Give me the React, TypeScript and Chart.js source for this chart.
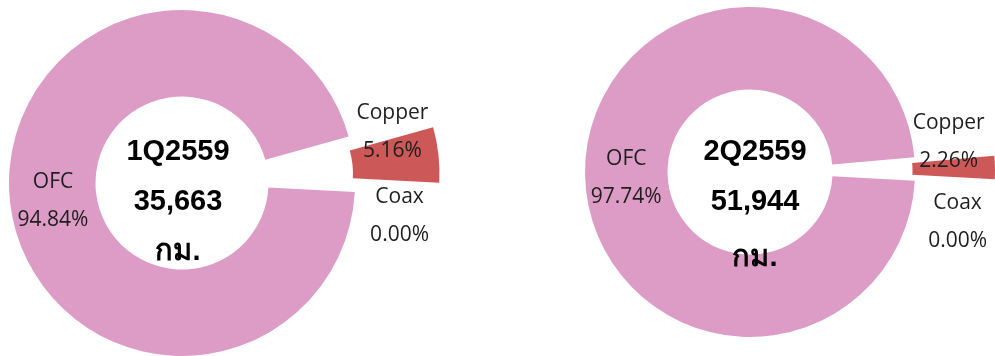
import React, { useEffect, useRef } from "react";
import { Chart, ArcElement, registerables } from "chart.js";

Chart.register(...registerables);

// ---- data ----
const categories = ["OFC", "Copper", "Coax"];
const q1Values = [94.84, 5.16, 0.0];
const q2Values = [97.74, 2.26, 0.0];
const periodLabels = ["1Q2559", "2Q2559"];
const totalLabels = ["35,663", "51,944"];
const unitLabel = "กม.";
const sliceColors = ["#DD9CC6", "#CD5858", "#A5A5A5"];

const W = 995;
const H = 356;

// Pure-translation "explode" for arcs with an offset (like a pulled-out slice)
const proto: any = ArcElement.prototype;
if (!proto.__explodePatched) {
  const orig = proto.draw;
  proto.draw = function (ctx: CanvasRenderingContext2D) {
    const opts = this.options || {};
    const o = opts.offset || 0;
    if (!o) return orig.call(this, ctx);
    const half = (this.startAngle + this.endAngle) / 2;
    ctx.save();
    ctx.translate(Math.cos(half) * o, Math.sin(half) * o);
    this.options = { ...opts, offset: 0 };
    try {
      orig.call(this, ctx);
    } finally {
      this.options = opts;
      ctx.restore();
    }
  };
  proto.__explodePatched = true;
}

type DonutProps = {
  values: number[];
  period: string;
  total: string;
  cx: number;
  cy: number;
  radius: number;
  explode: number;
  labelShift: number[][];
  centerShift: number[];
  unitGap: number;
};

function Donut(p: DonutProps) {
  const ref = useRef<HTMLCanvasElement | null>(null);
  useEffect(() => {
    if (!ref.current) return;
    const padL = 2 * p.cx < W ? 0 : 2 * p.cx - W;
    const padR = 2 * p.cx < W ? W - 2 * p.cx : 0;
    const padT = 2 * p.cy < H ? 0 : 2 * p.cy - H;
    const padB = 2 * p.cy < H ? H - 2 * p.cy : 0;

    const labelPlugin = {
      id: "donutLabels",
      afterDatasetsDraw(chart: any) {
        const ctx = chart.ctx as CanvasRenderingContext2D;
        const meta = chart.getDatasetMeta(0);
        ctx.save();
        ctx.textAlign = "center";
        ctx.textBaseline = "middle";
        ctx.fillStyle = "#1e1e1e";
        ctx.font = '21px "Open Sans", "Noto Sans", sans-serif';
        let ccx = 0;
        let ccy = 0;
        meta.data.forEach((arc: any, i: number) => {
          const { x, y, startAngle, endAngle, innerRadius, outerRadius } = arc.getProps(
            ["x", "y", "startAngle", "endAngle", "innerRadius", "outerRadius"],
            true
          );
          ccx = x;
          ccy = y;
          const o = (arc.options && arc.options.offset) || 0;
          const half = (startAngle + endAngle) / 2;
          const r = (innerRadius + outerRadius) / 2 + o;
          const ax = x + Math.cos(half) * r + p.labelShift[i][0];
          const ay = y + Math.sin(half) * r + p.labelShift[i][1];
          ctx.fillText(categories[i], ax, ay - 19);
          ctx.fillText(p.values[i].toFixed(2) + "%", ax, ay + 19);
        });
        ctx.fillStyle = "#000000";
        ctx.font = 'bold 29px "Liberation Sans", "Noto Sans", sans-serif';
        const tx = ccx + p.centerShift[0];
        const ty = ccy + p.centerShift[1];
        ctx.fillText(p.period, tx, ty - 50);
        ctx.fillText(p.total, tx, ty);
        ctx.fillText(unitLabel, tx, ty + p.unitGap);
        ctx.restore();
      },
    };

    const chart = new Chart(ref.current, {
      type: "doughnut",
      data: {
        labels: categories,
        datasets: [
          {
            data: p.values,
            backgroundColor: sliceColors,
            borderWidth: 0,
            offset: [0, p.explode, 0],
          } as any,
        ],
      },
      options: {
        animation: false,
        responsive: false,
        events: [],
        rotation: 93,
        radius: p.radius,
        cutout: "50%",
        layout: { padding: { left: padL, right: padR, top: padT, bottom: padB } },
        plugins: {
          legend: { display: false },
          tooltip: { enabled: false },
          title: { display: false },
        },
      } as any,
      plugins: [labelPlugin],
    });
    return () => chart.destroy();
  }, []);
  return (
    <canvas
      ref={ref}
      width={W}
      height={H}
      style={{ position: "absolute", left: 0, top: 0, width: W, height: H }}
    />
  );
}

export default function App() {
  return (
    <div
      style={{
        position: "absolute",
        left: 0,
        top: 0,
        width: W,
        height: H,
        background: "#ffffff",
        overflow: "hidden",
      }}
    >
      <Donut
        values={q1Values}
        period={periodLabels[0]}
        total={totalLabels[0]}
        cx={182}
        cy={183}
        radius={173}
        explode={85}
        labelShift={[
          [0, 4],
          [-3, -27],
          [88, 26],
        ]}
        centerShift={[-4, 19]}
        unitGap={50}
      />
      <Donut
        values={q2Values}
        period={periodLabels[1]}
        total={totalLabels[1]}
        cx={750}
        cy={172}
        radius={165}
        explode={80}
        labelShift={[
          [0, 4],
          [-5, -26],
          [84, 44],
        ]}
        centerShift={[5, 30]}
        unitGap={56}
      />
    </div>
  );
}
